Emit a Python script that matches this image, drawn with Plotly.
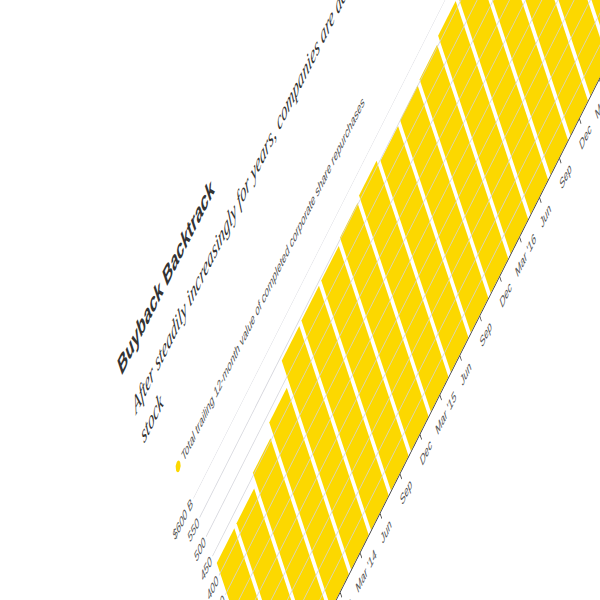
import plotly.graph_objects as go

# quarterly bars, trailing 12-month buybacks ($ billions)
quarters = ["Mar '13", "Jun", "Sep", "Dec",
            "Mar '14", "Jun", "Sep", "Dec",
            "Mar '15", "Jun", "Sep", "Dec",
            "Mar '16", "Jun", "Sep", "Dec",
            "Mar '17", "Jun"]
buybacks = [426, 427, 455, 483, 541, 543, 544, 553, 560,
            548, 551, 554, 565, 572, 548, 530, 512, 500]
y_ticks = [0, 50, 100, 150, 200, 250, 300, 350, 400, 450, 500, 550, 600]
y_tick_text = ["0", "50", "100", "150", "200", "250", "300", "350",
               "400", "450", "500", "550", "$600 B"]

title = "Buyback Backtrack"
subtitle_1 = "After steadily increasingly for years, companies are decreasing the amount they spend to buy back"
subtitle_2 = "stock"
legend_label = "Total trailing 12-month value of completed corporate share repurchases"

YELLOW = "#fcd800"

# layout in pixels (before the page transform)
W, H = 880, 500
ML, MT, MB = 66, 210, 44
QW = 43.4
PW = QW * len(quarters)
PH = H - MT - MB
MR = W - ML - PW


def px(x):
    return (x - ML) / PW


def py(y):
    return (H - MB - y) / PH


fig = go.Figure()
fig.add_trace(go.Bar(
    x=list(range(len(quarters))),
    y=buybacks,
    marker=dict(color=YELLOW, line=dict(width=0)),
    hoverinfo="skip",
))

# gridlines drawn above the bars
for v in y_ticks[1:]:
    fig.add_shape(type="line", xref="paper", yref="y", x0=0, x1=1, y0=v, y1=v,
                  line=dict(color="#d2d3da", width=1), layer="above")

# legend dot
fig.add_shape(type="circle", xref="paper", yref="paper",
              x0=px(55.5), x1=px(64.5), y0=py(175), y1=py(166),
              fillcolor=YELLOW, line=dict(width=0))

fig.add_annotation(text="<b>" + title + "</b>", x=px(22.5), y=py(33.3), xref="paper", yref="paper",
                   xanchor="left", yanchor="middle", showarrow=False,
                   font=dict(family="Liberation Sans, Arial", size=22, color="#333"))
fig.add_annotation(text="<i>" + subtitle_1 + "</i>", x=px(23), y=py(76.5), xref="paper", yref="paper",
                   xanchor="left", yanchor="middle", showarrow=False,
                   font=dict(family="Liberation Serif, Times New Roman", size=21, color="#333"))
fig.add_annotation(text="<i>" + subtitle_2 + "</i>", x=px(23), y=py(105.5), xref="paper", yref="paper",
                   xanchor="left", yanchor="middle", showarrow=False,
                   font=dict(family="Liberation Serif, Times New Roman", size=21, color="#333"))
fig.add_annotation(text=legend_label, x=px(67), y=py(170.5), xref="paper", yref="paper",
                   xanchor="left", yanchor="middle", showarrow=False,
                   font=dict(family="Liberation Sans, Arial", size=12.5, color="#555"))

fig.update_layout(
    width=W, height=H,
    margin=dict(l=ML, r=MR, t=MT, b=MB, pad=0),
    paper_bgcolor="white", plot_bgcolor="white",
    showlegend=False, bargap=0.12,
    font=dict(family="Liberation Sans, Arial", size=12.5, color="#555"),
)
fig.update_xaxes(
    range=[-0.5, len(quarters) - 0.5],
    tickvals=list(range(len(quarters))), ticktext=quarters,
    ticks="outside", ticklen=5, tickcolor="#333", tickwidth=1,
    showline=True, linecolor="#222", linewidth=1,
    showgrid=False, zeroline=False, ticklabelstandoff=3,
    tickfont=dict(size=12.5, color="#555"),
)
fig.update_yaxes(
    range=[0, 600],
    tickvals=y_ticks, ticktext=y_tick_text,
    ticks="", showgrid=False, zeroline=False, showline=False,
    ticklabelstandoff=2,
    tickfont=dict(size=12.5, color="#555"),
)

# the whole page is shown rotated and sheared
post = ("var d=document.getElementById('{plot_id}');"
        "document.documentElement.style.overflow='hidden';"
        "document.body.style.margin='0';document.body.style.overflow='hidden';"
        "d.style.transformOrigin='0 0';"
        "d.style.transform='matrix(0.4594,-0.9097,0.313,0.942,97.2,360.4)';")

fig.write_html("out.html", config={"displayModeBar": False}, post_script=post)
